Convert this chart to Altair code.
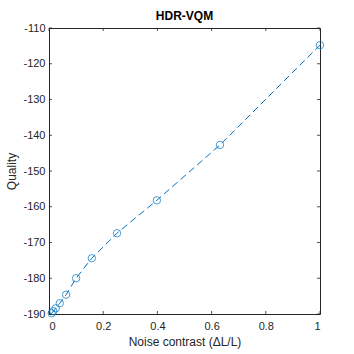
import altair as alt
import pandas as pd

noise_contrast = [0.01, 0.0158, 0.0251, 0.0398, 0.0631, 0.1, 0.158, 0.251, 0.398, 0.631, 1.0]
quality = [-189.8, -189.2, -188.4, -187.0, -184.6, -180.0, -174.4, -167.4, -158.2, -142.7, -114.8]
x_ticks = [0, 0.2, 0.4, 0.6, 0.8, 1]
y_ticks = [-190, -180, -170, -160, -150, -140, -130, -120, -110]

W, H = 271, 286
BLUE = "#0072BD"
TXT = "#262626"
FONT = "Liberation Sans"

df = pd.DataFrame({"x": noise_contrast, "y": quality})
dx = pd.DataFrame({"t": x_ticks})
dy = pd.DataFrame({"t": y_ticks})

xs = alt.Scale(domain=[0, 1], nice=False, zero=False)
ys = alt.Scale(domain=[-190, -110], nice=False, zero=False)

xax = alt.Axis(values=x_ticks, labelExpr="toString(datum.value)", title="Noise contrast (ΔL/L)",
               grid=False, ticks=False, domain=False, labelPadding=6, titlePadding=5,
               labelOverlap=False)
yax = alt.Axis(values=y_ticks, labelExpr="toString(datum.value)", title="Quality", grid=False,
               ticks=False, domain=False, labelPadding=4, titlePadding=4, labelOverlap=False)

line = alt.Chart(df).mark_line(color=BLUE, strokeDash=[7, 4], strokeWidth=1).encode(
    x=alt.X("x:Q", scale=xs, axis=xax),
    y=alt.Y("y:Q", scale=ys, axis=yax),
)
pts = alt.Chart(df).mark_point(shape="circle", filled=False, color=BLUE, size=55, strokeWidth=1).encode(
    x=alt.X("x:Q", scale=xs, axis=xax),
    y=alt.Y("y:Q", scale=ys, axis=yax),
)

tk = 3
bot = alt.Chart(dx).mark_rule(color=TXT, strokeWidth=0.8).encode(
    x=alt.X("t:Q", scale=xs, axis=xax), y=alt.value(H), y2=alt.value(H - tk))
top = alt.Chart(dx).mark_rule(color=TXT, strokeWidth=0.8).encode(
    x=alt.X("t:Q", scale=xs, axis=xax), y=alt.value(0), y2=alt.value(tk))
left = alt.Chart(dy).mark_rule(color=TXT, strokeWidth=0.8).encode(
    y=alt.Y("t:Q", scale=ys, axis=yax), x=alt.value(0), x2=alt.value(tk))
right = alt.Chart(dy).mark_rule(color=TXT, strokeWidth=0.8).encode(
    y=alt.Y("t:Q", scale=ys, axis=yax), x=alt.value(W), x2=alt.value(W - tk))

chart = alt.layer(line, pts, bot, top, left, right).properties(
    width=W, height=H,
    background="white",
    title=alt.TitleParams("HDR-VQM", fontSize=12, fontWeight="bold", font=FONT, color="black",
                          offset=3, dy=4),
    autosize=alt.AutoSizeParams(type="none"),
    padding={"left": 49, "top": 28, "right": 34, "bottom": 40},
).configure_view(stroke=TXT, strokeWidth=1).configure_axis(
    labelFont=FONT, titleFont=FONT, labelFontSize=11, titleFontSize=12,
    labelColor=TXT, titleColor=TXT, titleFontWeight="normal", labelOverlap=False,
)

chart.save("out.html", embed_options={"renderer": "svg", "actions": False})
